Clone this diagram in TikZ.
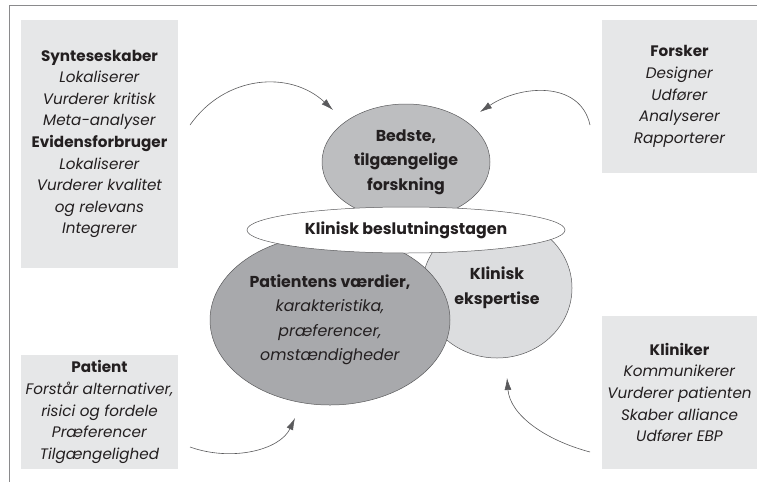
\documentclass[tikz,border=0pt]{standalone}
\usepackage{fontspec}
\setmainfont{Poppins}
\usetikzlibrary{shapes, arrows.meta, positioning}
\definecolor{boxgray}{HTML}{E6E7E8}
\definecolor{midgray}{HTML}{BDBEC0}
\definecolor{darkgray}{HTML}{A8A9AC}
\definecolor{palegray}{HTML}{DCDDDF}
\definecolor{linegray}{HTML}{5A5A5C}
\definecolor{framegray}{HTML}{8A8A8C}
\definecolor{ink}{HTML}{231F20}

\begin{document}
\begin{tikzpicture}[x=1pt, y=-1pt, >={Latex[length=12pt,width=7pt]},
  role/.style={fill=boxgray, align=center, inner sep=0pt, text=ink, font=\fontsize{15.2}{21.6}\selectfont},
  blob/.style={ellipse, draw=linegray, line width=0.5pt, align=center, inner sep=0pt, text=ink, font=\fontsize{15.8}{24.5}\selectfont},
  flow/.style={->, draw=linegray, line width=0.6pt}]
  \useasboundingbox (0,0) rectangle (757,482);
  \draw[framegray, line width=0.8pt] (757,5) -- (9,5) -- (9,482);

  % roles
  \node[role, minimum width=157pt, minimum height=248pt] (synth) at (99.5,144)
    {\textbf{Synteseskaber}\\ \textit{Lokaliserer}\\ \textit{Vurderer kritisk}\\ \textit{Meta-analyser}\\
     \textbf{Evidensforbruger}\\ \textit{Lokaliserer}\\ \textit{Vurderer kvalitet}\\ \textit{og relevans}\\ \textit{Integrerer}};
  \node[role, minimum width=155pt, minimum height=153pt] (forsker) at (679.5,96.5)
    {\textbf{Forsker}\\ \textit{Designer}\\ \textit{Udfører}\\ \textit{Analyserer}\\ \textit{Rapporterer}};
  \node[role, minimum width=157pt, minimum height=114pt] (patient) at (99.5,412)
    {\textbf{Patient}\\ \textit{Forstår alternativer,}\\ \textit{risici og fordele}\\ \textit{Præferencer}\\ \textit{Tilgængelighed}};
  \node[role, minimum width=155pt, minimum height=153pt] (kliniker) at (679.5,392.5)
    {\textbf{Kliniker}\\ \textit{Kommunikerer}\\ \textit{Vurderer patienten}\\ \textit{Skaber alliance}\\ \textit{Udfører EBP}};

  % evidence circles
  \node[blob, fill=palegray, minimum width=150pt, minimum height=140pt] (expertise) at (497,288)
    {\textbf{Klinisk}\\ \textbf{ekspertise}};
  \node[blob, fill=darkgray, minimum width=240pt, minimum height=170pt] (values) at (330,320)
    {\textbf{Patientens værdier,}\\ \textit{karakteristika,}\\ \textit{præferencer,}\\ \textit{omstændigheder}};
  \node[blob, fill=midgray, minimum width=168pt, minimum height=116pt] (research) at (406,162)
    {\textbf{Bedste,}\\ \textbf{tilgængelige}\\ \textbf{forskning}};
  \node[blob, fill=white, minimum width=318pt, minimum height=46pt] (decision) at (406,230)
    {\textbf{Klinisk beslutningstagen}};

  % arrows
  \coordinate (s1) at (190,125);
  \coordinate (t1) at (333,110);
  \coordinate (s2) at (590,125);
  \coordinate (t2) at (480,112);
  \coordinate (s3) at (190,447);
  \coordinate (t3) at (295,418);
  \coordinate (s4) at (590,452);
  \coordinate (t4) at (507,378);
  \draw[flow] (s1) .. controls (225,75) and (290,70) .. (t1);
  \draw[flow] (s2) .. controls (580,80) and (520,85) .. (t2);
  \draw[flow] (s3) .. controls (232,462) and (280,450) .. (t3);
  \draw[flow] (s4) .. controls (545,440) and (510,415) .. (t4);
\end{tikzpicture}
\end{document}
